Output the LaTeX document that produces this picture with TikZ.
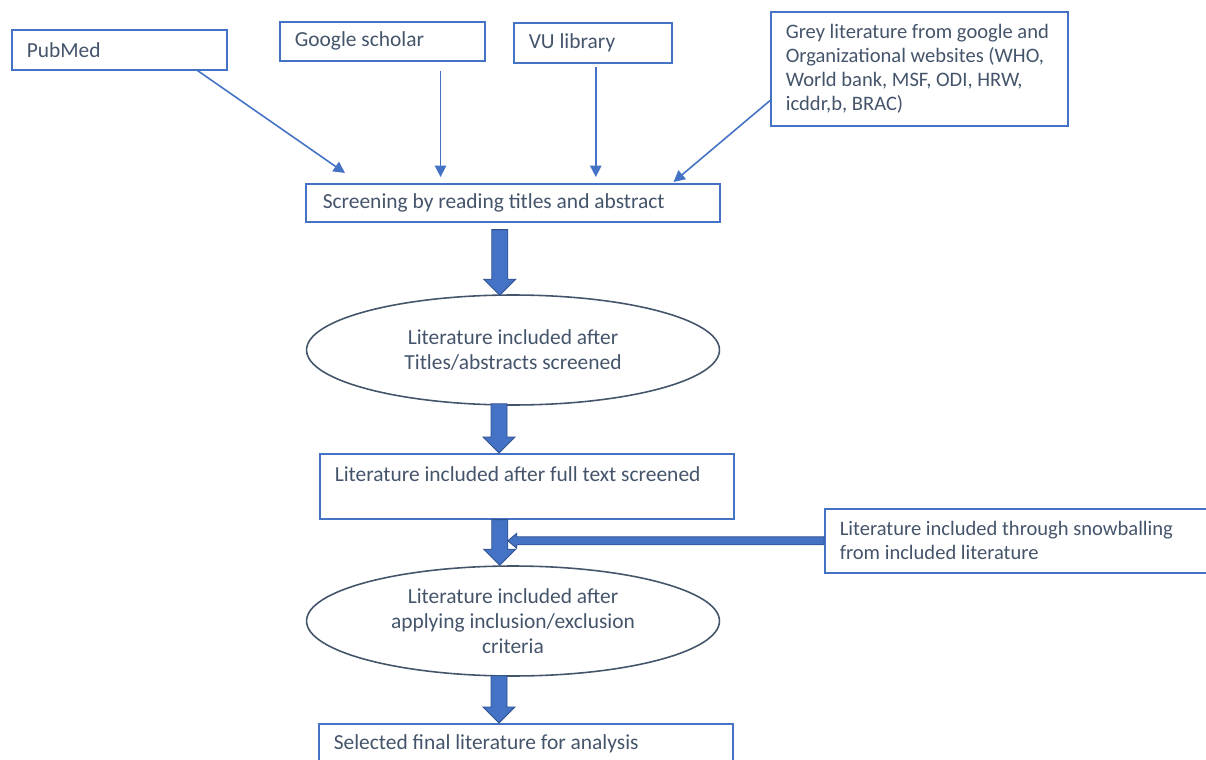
\documentclass[tikz,border=0pt]{standalone}
\usepackage{fontspec}
\setmainfont{Carlito}
\usetikzlibrary{arrows.meta, calc, shapes.geometric}
\definecolor{boxblue}{HTML}{4472C4}
\definecolor{edgeblue}{HTML}{2F528F}
\definecolor{slate}{HTML}{44546A}
% thick block arrows, start point and tip
\newcommand{\blockdown}[2]{%
  \filldraw[blockarrow] let \p1=#1, \p2=#2 in
    (\x1-0.16cm,\y1) -- (\x1-0.16cm,\y2+0.32cm) -- (\x1-0.32cm,\y2+0.32cm) -- (\x1,\y2)
    -- (\x1+0.32cm,\y2+0.32cm) -- (\x1+0.16cm,\y2+0.32cm) -- (\x1+0.16cm,\y1) -- cycle;}
\newcommand{\blockleft}[2]{%
  \filldraw[blockarrow] let \p1=#1, \p2=#2 in
    (\x1,\y1+0.08cm) -- (\x2+0.18cm,\y1+0.08cm) -- (\x2+0.18cm,\y1+0.15cm) -- (\x2,\y1)
    -- (\x2+0.18cm,\y1-0.15cm) -- (\x2+0.18cm,\y1-0.08cm) -- (\x1,\y1-0.08cm) -- cycle;}

\begin{document}
\begin{tikzpicture}[x=0.02cm, y=-0.02cm, thick]
    \tikzset{srcbox/.style={draw=boxblue, line width=0.9pt, rectangle, anchor=north west,
                inner xsep=0.3cm, inner ysep=0pt, align=flush left, text=slate,
                font=\fontsize{12.2}{14.2}\selectfont},
             smalltext/.style={font=\fontsize{11.7}{13.7}\selectfont},
             stage/.style={ellipse, draw=slate, line width=0.9pt, align=flush center, text=slate,
                inner sep=0pt, minimum width=8.26cm, minimum height=2.2cm,
                font=\fontsize{12.2}{14.2}\selectfont},
             feed/.style={draw=boxblue, line width=0.9pt, -{Triangle[length=6.5pt, width=6.5pt]}},
             blockarrow/.style={fill=boxblue, draw=edgeblue, line width=0.5pt}};
    \clip (0, 0) rectangle (1206, 760);
    % Sources
    \node[srcbox, text width=3.7cm, minimum height=0.8cm] (pubmed) at (11, 29) {PubMed};
    \node[srcbox, text width=3.5cm, minimum height=0.78cm] (scholar) at (279, 21) {Google scholar};
    \node[srcbox, text width=2.56cm, minimum height=0.8cm] (vulib) at (513, 22) {VU library};
    \node[srcbox, smalltext, text width=5.35cm, minimum height=2.28cm] (grey) at (770, 11)
        {Grey literature from google and\\Organizational websites (WHO,\\World bank, MSF, ODI, HRW,\\icddr,b, BRAC)};
    % Stages
    \node[srcbox, inner xsep=0.34cm, text width=7.6cm, minimum height=0.76cm] (screen) at (305, 183)
        {Screening by reading titles and abstract};
    \node[stage] (incl1) at (513, 350) {Literature included after\\Titles/abstracts screened};
    \node[srcbox, text width=7.68cm, minimum height=1.3cm] (fulltext) at (319, 453)
        {Literature included after full text screened\\\mbox{}};
    \node[srcbox, smalltext, text width=7.22cm, minimum height=1.28cm] (snowball) at (824, 508)
        {Literature included through snowballing\\from included literature};
    \node[stage] (incl2) at (513, 621)
        {Literature included after\\applying inclusion/exclusion\\criteria};
    \node[srcbox, text width=7.68cm, minimum height=0.8cm] (final) at (318, 723)
        {Selected final literature for analysis};
    % Thin arrows into screening
    \coordinate (gsout) at ($(scholar.south east)+(-45, 9)$);
    \coordinate (vuout) at ($(vulib.south)+(3, 3)$);
    \draw[feed] ($(pubmed.south east)+(-30, 0)$) -- ($(screen.north west)+(40, -10)$);
    \draw[feed] (gsout) -- ($(gsout |- screen.north)+(0, -6)$);
    \draw[feed] (vuout) -- ($(vuout |- screen.north)+(0, -6)$);
    \draw[feed] ($(grey.south west)+(0, -26)$) -- ($(screen.north east)+(-47, -1)$);
    % Block arrows
    \blockdown{($(screen.south)+(-13, 7)$)}{($(incl1.north)+(-14, 1)$)}
    \blockdown{($(incl1.south)+(-14, -2)$)}{($(fulltext.north)+(-27, 0)$)}
    \blockdown{($(fulltext.south)+(-27, 0)$)}{($(incl2.north)+(-14, 0)$)}
    \blockdown{($(incl2.south)+(-14, -1)$)}{($(final.north)+(-26, 0)$)}
    \coordinate (mx) at ($(fulltext.south)+(-19, 0)$);
    \coordinate (merge) at (mx |- snowball.west);
    \blockleft{(snowball.west)}{(merge)}
\end{tikzpicture}
\end{document}
